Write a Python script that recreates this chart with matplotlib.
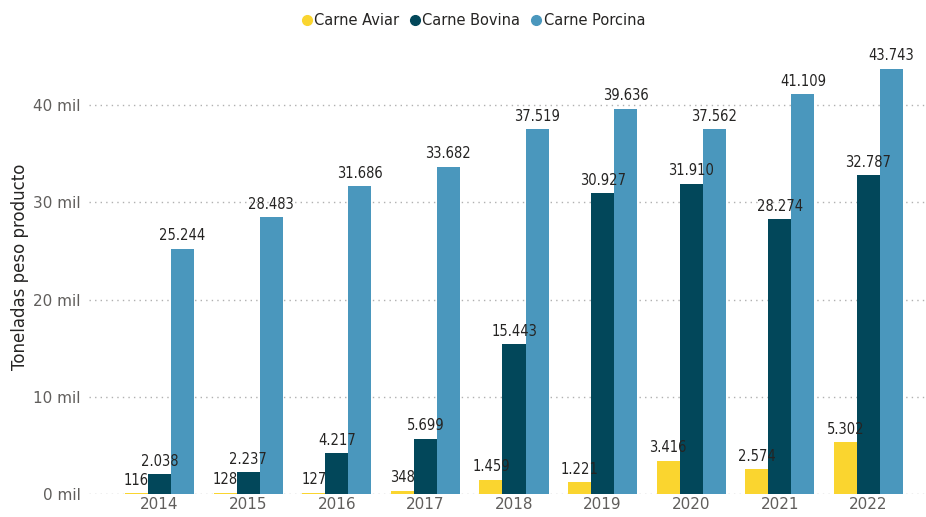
import matplotlib
matplotlib.use("Agg")
import matplotlib.pyplot as plt
import numpy as np
from matplotlib.ticker import FuncFormatter
from matplotlib.lines import Line2D

years = ["2014", "2015", "2016", "2017", "2018", "2019", "2020", "2021", "2022"]
aviar = [116, 128, 127, 348, 1459, 1221, 3416, 2574, 5302]
bovina = [2038, 2237, 4217, 5699, 15443, 30927, 31910, 28274, 32787]
porcina = [25244, 28483, 31686, 33682, 37519, 39636, 37562, 41109, 43743]
series_names = ["Carne Aviar", "Carne Bovina", "Carne Porcina"]
colors = ["#FAD52F", "#02475A", "#4A97BD"]

fig = plt.figure(figsize=(9.26, 5.17), dpi=100)
ax = fig.add_axes([0.0961, 0.0445, 0.9039, 0.878])

x = np.arange(len(years))
w = 0.26
label_font = dict(family="DejaVu Sans", stretch="condensed", fontsize=10.5, color="#252423")
for i, (vals, c) in enumerate(zip([aviar, bovina, porcina], colors)):
    pos = x + (i - 1) * w
    ax.bar(pos, vals, width=w, color=c, zorder=2)
    for px, v in zip(pos, vals):
        ax.text(px, v + 550, f"{v:,}".replace(",", "."), ha="center", va="bottom", **label_font)

ax.set_xlim(-0.796, 8.649)
ax.set_ylim(0, 46700)
ax.set_yticks([0, 10000, 20000, 30000, 40000])
ax.yaxis.set_major_formatter(FuncFormatter(lambda v, p: f"{int(v/1000)} mil"))
ax.set_xticks(x)
ax.set_xticklabels(years)
ax.tick_params(axis="both", length=0, labelsize=11, labelcolor="#605E5C")
ax.tick_params(axis="y", pad=6)
ax.tick_params(axis="x", pad=2)
ax.grid(axis="y", linestyle=(0, (1, 3)), color="#B0B0B0", linewidth=1, zorder=0)
for s in ax.spines.values():
    s.set_visible(False)
ax.set_ylabel("Toneladas peso producto", fontsize=12, color="#252423", labelpad=3)

handles = [Line2D([], [], marker="o", linestyle="", markersize=7, color=c) for c in colors]
fig.legend(handles, series_names, loc="upper center", bbox_to_anchor=(0.51, 1.0), ncol=3,
           frameon=False, fontsize=10.5, handletextpad=0.0, columnspacing=0.6,
           labelcolor="#252423", handlelength=1.0)

fig.savefig("out.png", dpi=100)
